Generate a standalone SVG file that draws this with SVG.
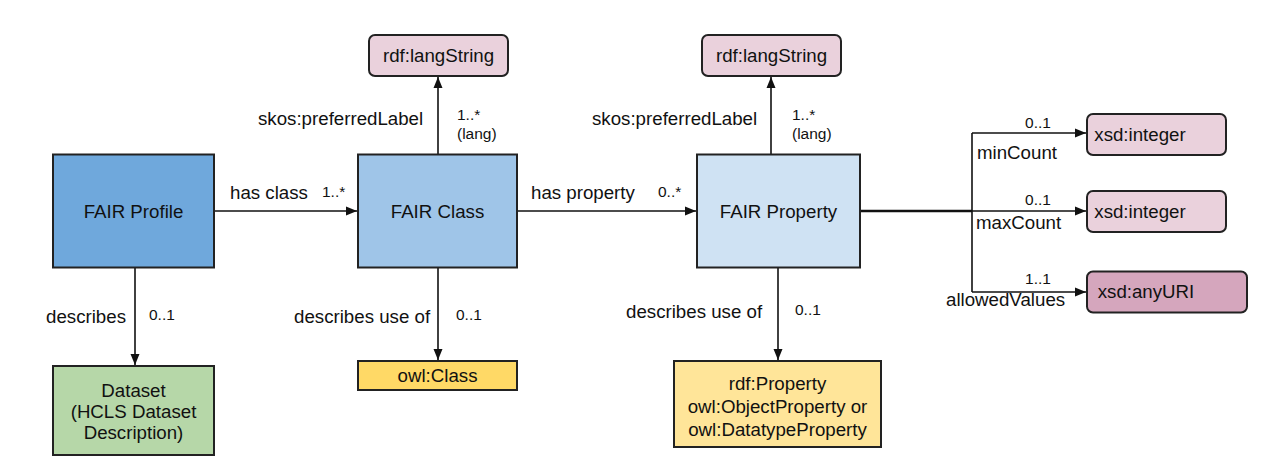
<svg xmlns="http://www.w3.org/2000/svg" width="1283" height="473" viewBox="0 0 1283 473">
<style>
text{font-family:"Liberation Sans",Arial,sans-serif;fill:#111}
.n{font-size:18.7px;text-anchor:middle}
.l{font-size:18.7px}
.c{font-size:15.5px}
.box{stroke:#222;stroke-width:2}
.cn{fill:none;stroke:#111;stroke-width:1.6}
</style>
<defs>
<marker id="ah" markerUnits="userSpaceOnUse" markerWidth="12" markerHeight="10" refX="11" refY="5" orient="auto">
<path d="M0,0.5 L11,5 L0,9.5 z" fill="#111"/>
</marker>
</defs>
<rect width="1283" height="473" fill="#fff"/>
<g id="connectors">
<path class="cn" d="M215,211 H357" marker-end="url(#ah)"/>
<path class="cn" d="M517,211 H696" marker-end="url(#ah)"/>
<path class="cn" d="M438,155 V77" marker-end="url(#ah)"/>
<path class="cn" d="M771,155 V77" marker-end="url(#ah)"/>
<path class="cn" d="M135,268 V365" marker-end="url(#ah)"/>
<path class="cn" d="M438,268 V360" marker-end="url(#ah)"/>
<path class="cn" d="M778,268 V360" marker-end="url(#ah)"/>
<path d="M860,211 H972" fill="none" stroke="#111" stroke-width="2.6"/>
<path class="cn" d="M972,133 V292"/>
<path class="cn" d="M972,133 H1086" marker-end="url(#ah)"/>
<path class="cn" d="M972,211 H1086" marker-end="url(#ah)"/>
<path class="cn" d="M972,292 H1086" marker-end="url(#ah)"/>
<text class="l" x="230" y="199">has class</text>
<text class="c" x="322" y="197">1..*</text>
<text class="l" x="531" y="199">has property</text>
<text class="c" x="658" y="197">0..*</text>
<text class="l" x="258" y="125">skos:preferredLabel</text>
<text class="c" x="457" y="120">1..*</text>
<text class="c" x="457" y="139">(lang)</text>
<text class="l" x="592" y="125">skos:preferredLabel</text>
<text class="c" x="792" y="120">1..*</text>
<text class="c" x="792" y="139">(lang)</text>
<text class="l" x="46" y="323">describes</text>
<text class="c" x="149" y="320">0..1</text>
<text class="l" x="294" y="323">describes use of</text>
<text class="c" x="456" y="320">0..1</text>
<text class="l" x="626" y="318">describes use of</text>
<text class="c" x="795" y="315">0..1</text>
<text class="c" x="1038" y="128" text-anchor="middle">0..1</text>
<text class="l" x="977" y="159">minCount</text>
<text class="c" x="1038" y="205" text-anchor="middle">0..1</text>
<text class="l" x="976" y="229">maxCount</text>
<text class="c" x="1038" y="284" text-anchor="middle">1..1</text>
<text class="l" x="946" y="306">allowedValues</text>
</g>
<g id="fair-profile">
<rect class="box" x="53" y="154.5" width="161" height="113" fill="#6fa8dc"/>
<text class="n" x="133.5" y="218">FAIR Profile</text>
</g>
<g id="fair-class">
<rect class="box" x="358" y="154.5" width="159" height="113" fill="#9fc5e8"/>
<text class="n" x="437.5" y="218">FAIR Class</text>
</g>
<g id="fair-property">
<rect class="box" x="697" y="154.5" width="163" height="113" fill="#cfe2f3"/>
<text class="n" x="778.5" y="218">FAIR Property</text>
</g>
<g id="dataset">
<rect class="box" x="53" y="366" width="161" height="89" fill="#b6d7a8"/>
<text class="n" x="133.5" y="397">Dataset</text>
<text class="n" x="133.5" y="418">(HCLS Dataset</text>
<text class="n" x="133.5" y="439">Description)</text>
</g>
<g id="owl-class">
<rect class="box" x="358" y="361" width="159" height="29" fill="#ffd966"/>
<text class="n" x="437.5" y="382">owl:Class</text>
</g>
<g id="rdf-property">
<rect class="box" x="674" y="361" width="207" height="86" fill="#ffe599"/>
<text class="n" x="777.5" y="390">rdf:Property</text>
<text class="n" x="777.5" y="413">owl:ObjectProperty or</text>
<text class="n" x="777.5" y="436">owl:DatatypeProperty</text>
</g>
<g id="langstring-1">
<rect class="box" x="369" y="35" width="139" height="41" rx="6" fill="#ead1dc"/>
<text class="n" x="438.5" y="62">rdf:langString</text>
</g>
<g id="langstring-2">
<rect class="box" x="702" y="35" width="139" height="41" rx="6" fill="#ead1dc"/>
<text class="n" x="771.5" y="62">rdf:langString</text>
</g>
<g id="xsd-integer-1">
<rect class="box" x="1087" y="114" width="139" height="41" rx="6" fill="#ead1dc"/>
<text class="n" x="1140" y="141">xsd:integer</text>
</g>
<g id="xsd-integer-2">
<rect class="box" x="1087" y="191" width="139" height="41" rx="6" fill="#ead1dc"/>
<text class="n" x="1140" y="218">xsd:integer</text>
</g>
<g id="xsd-anyuri">
<rect class="box" x="1087" y="271.5" width="160" height="41" rx="6" fill="#d5a6bd"/>
<text class="n" x="1146" y="298">xsd:anyURI</text>
</g>
</svg>
